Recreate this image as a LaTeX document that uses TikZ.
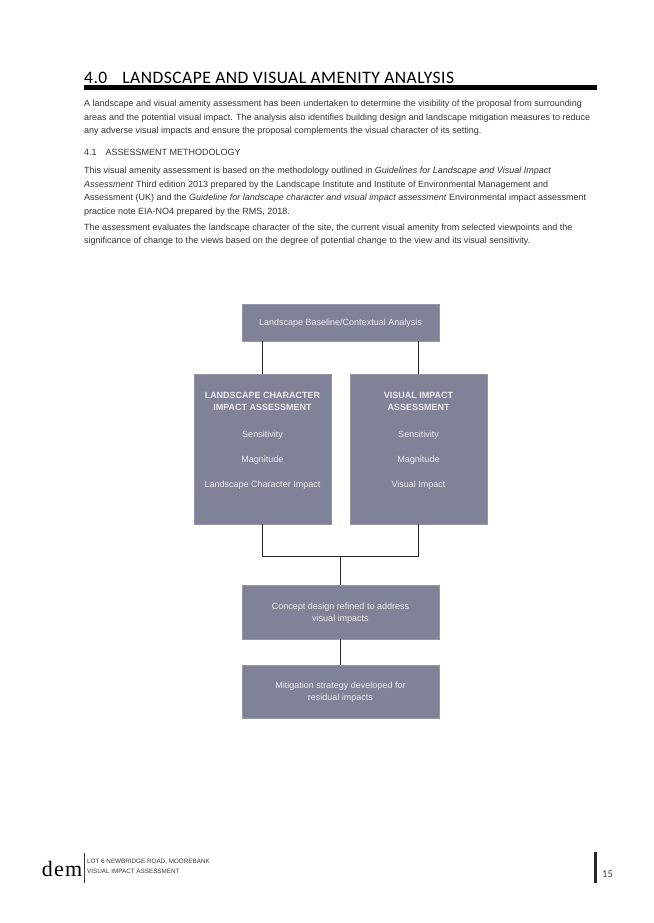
\documentclass[tikz,border=0pt]{standalone}
\usepackage{fontspec}
\setmainfont{Liberation Sans}
\newfontfamily\headfont[LetterSpace=2.8]{Carlito}
\newfontfamily\pagefont{Carlito}
\newfontfamily\logofont[LetterSpace=6]{Liberation Serif}
\usetikzlibrary{positioning}
\definecolor{boxgrey}{HTML}{808397}
\definecolor{boxtext}{HTML}{ECECF0}
\definecolor{bodygrey}{HTML}{333333}

\begin{document}
\begin{tikzpicture}[
x=1pt,y=-1pt,
para/.style={
  anchor=north west,
  inner sep=0pt,
  align=left,
  text=bodygrey,
  font=\fontsize{9}{13.6}\selectfont
},
flow/.style={
  draw=boxgrey!85!white,
  fill=boxgrey,
  inner sep=0pt
},
inbox/.style={
  inner sep=0pt,
  text=boxtext,
  align=center,
  font=\fontsize{9}{12.2}\selectfont
},
link/.style={
  draw=black!85,
  line width=1pt
}
]
\useasboundingbox (0,0) rectangle (653,923);

% page heading
\node[anchor=base west,inner sep=0pt,text=black,font=\fontsize{17.5}{22}\headfont] (title) at (84,84)
  {4.0\hspace{15pt}LANDSCAPE AND VISUAL AMENITY ANALYSIS};
\coordinate (ruleL) at (84,87.5);
\coordinate (ruleR) at (597,87.5);
\draw[black,line width=4.2pt] (ruleL) -- (ruleR);

\node[para] (intro) at (84,100)
  {A landscape and visual amenity assessment has been undertaken to determine the visibility of the proposal from surrounding\\
   areas and the potential visual impact. The analysis also identifies building design and landscape mitigation measures to reduce\\
   any adverse visual impacts and ensure the proposal complements the visual character of its setting.};
\node[para] (sub) at (84,149)
  {4.1\hspace{9pt}ASSESSMENT METHODOLOGY};
\node[para] (method) at (84,167)
  {This visual amenity assessment is based on the methodology outlined in \emph{Guidelines for Landscape and Visual Impact}\\
   \emph{Assessment} Third edition 2013 prepared by the Landscape Institute and Institute of Environmental Management and\\
   Assessment (UK) and the \emph{Guideline for landscape character and visual impact assessment} Environmental impact assessment\\
   practice note EIA-NO4 prepared by the RMS, 2018.};
\node[para] (evalua) at (84,223.5)
  {The assessment evaluates the landscape character of the site, the current visual amenity from selected viewpoints and the\\
   significance of change to the views based on the degree of potential change to the view and its visual sensitivity.};

% flow chart
\node[flow,minimum width=197pt,minimum height=37pt] (base) at (340.5,322.5) {};
\node[flow,minimum width=137pt,minimum height=150pt] (land) at (262.5,449) {};
\node[flow,minimum width=137pt,minimum height=150pt] (vis) at (418.5,449) {};
\node[flow,minimum width=197pt,minimum height=54pt] (concept) at (340.5,612) {};
\node[flow,minimum width=197pt,minimum height=53pt] (mitig) at (340.5,691.5) {};

\node[inbox] (baseT) at (base|-0,323) {Landscape Baseline/Contextual Analysis};
\node[inbox,font=\fontsize{9}{12.2}\selectfont\bfseries] (landT) at (land|-0,401) {LANDSCAPE CHARACTER\\IMPACT ASSESSMENT};
\node[inbox] (landS) at (land|-0,435.5) {Sensitivity};
\node[inbox] (landM) at (land|-0,460.5) {Magnitude};
\node[inbox] (landI) at (land|-0,485.5) {Landscape Character Impact};
\node[inbox,font=\fontsize{9}{12.2}\selectfont\bfseries] (visT) at (vis|-0,401) {VISUAL IMPACT\\ASSESSMENT};
\node[inbox] (visS) at (vis|-0,435.5) {Sensitivity};
\node[inbox] (visM) at (vis|-0,460.5) {Magnitude};
\node[inbox] (visI) at (vis|-0,485.5) {Visual Impact};
\node[inbox] (conceptT) at (concept|-0,613) {Concept design refined to address\\visual impacts};
\node[inbox] (mitigT) at (mitig|-0,692.5) {Mitigation strategy developed for\\residual impacts};

\coordinate (merge) at (340.5,556);
\draw[link] (base.south-|land) -- (land.north);
\draw[link] (base.south-|vis) -- (vis.north);
\draw[link] (land.south) |- (merge);
\draw[link] (vis.south) |- (merge);
\draw[link] (merge) -- (concept.north);
\draw[link] (concept.south) -- (mitig.north);

% footer
\node[anchor=base east,inner sep=0pt,text=black,font=\fontsize{22}{24}\logofont] (logo) at (82.5,876.5) {dem};
\coordinate (barT) at (84.5,853);
\coordinate (barB) at (84.5,883);
\draw[black!80,line width=1pt] (barT) -- (barB);
\node[para,text=black!80,font=\fontsize{6.3}{10}\selectfont] (foot) at (87,859)
  {LOT 6 NEWBRIDGE ROAD, MOOREBANK\\VISUAL IMPACT ASSESSMENT};
\coordinate (pageT) at (595.5,852);
\coordinate (pageB) at (595.5,883);
\draw[black!85,line width=2.4pt] (pageT) -- (pageB);
\node[anchor=base west,inner sep=0pt,text=black!75,font=\fontsize{10.5}{12}\pagefont] (page) at (602,877) {15};
\end{tikzpicture}
\end{document}
